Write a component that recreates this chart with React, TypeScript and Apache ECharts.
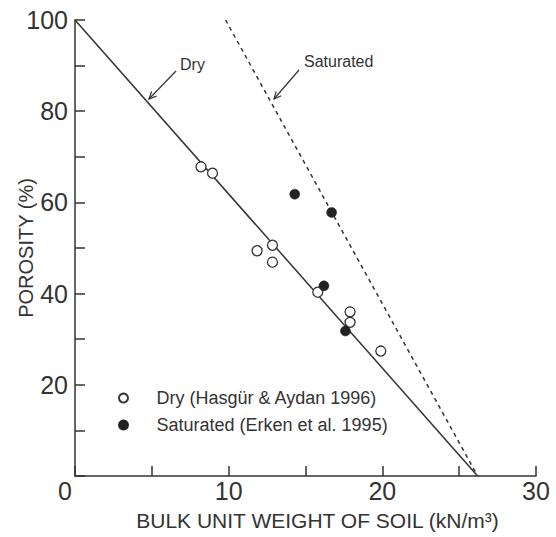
import React, { useEffect, useRef } from "react";
import * as echarts from "echarts";

// Data
const dryX = [8.2, 8.95, 12.85, 11.85, 12.85, 15.8, 17.9, 17.9, 19.9];
const dryY = [67.8, 66.4, 50.6, 49.4, 46.9, 40.3, 36.0, 33.7, 27.4];
const satX = [14.3, 16.7, 16.2, 17.6];
const satY = [61.8, 57.8, 41.7, 31.8];
const dryLineX = [0, 26.2];
const dryLineY = [100, 0];
const satLineX = [9.8, 26.2];
const satLineY = [100, 0];
const xTicks = [0, 10, 20, 30];
const yTicks = [0, 20, 40, 60, 80, 100];

const INK = "#333333";
const FONT = "Liberation Sans, Arial, Helvetica, sans-serif";

function zip(xs: number[], ys: number[]) {
  return xs.map((x, i) => [x, ys[i]]);
}

function arrow(x1: number, y1: number, x2: number, y2: number) {
  const dx = x1 - x2;
  const dy = y1 - y2;
  const len = Math.hypot(dx, dy);
  const ux = dx / len;
  const uy = dy / len;
  const a = (25 * Math.PI) / 180;
  const L = 8;
  const w1 = [x2 + L * (ux * Math.cos(a) - uy * Math.sin(a)), y2 + L * (ux * Math.sin(a) + uy * Math.cos(a))];
  const w2 = [x2 + L * (ux * Math.cos(a) + uy * Math.sin(a)), y2 + L * (-ux * Math.sin(a) + uy * Math.cos(a))];
  return [
    { type: "line", shape: { x1, y1, x2, y2 }, style: { stroke: INK, lineWidth: 1.2 } },
    { type: "polyline", shape: { points: [w1, [x2, y2], w2] }, style: { stroke: INK, lineWidth: 1.2, fill: null } },
  ];
}

export default function App() {
  const ref = useRef<HTMLDivElement>(null);
  useEffect(() => {
    if (!ref.current) return;
    const chart = echarts.init(ref.current, null, { renderer: "svg" });
    const axisCommon = {
      axisLine: { show: true, lineStyle: { color: INK, width: 1.5 } },
      axisTick: { show: true, inside: true, length: 10, lineStyle: { color: INK, width: 1.5 } },
      minorTick: { show: true, splitNumber: 2, length: 10, lineStyle: { color: INK, width: 1.5 } },
      splitLine: { show: false },
    };
    chart.setOption({
      animation: false,
      backgroundColor: "#ffffff",
      textStyle: { fontFamily: FONT, color: INK },
      grid: { left: 75, right: 20, top: 20, bottom: 61, containLabel: false, outerBoundsMode: "none" },
      xAxis: {
        type: "value",
        min: xTicks[0],
        max: xTicks[xTicks.length - 1],
        interval: 10,
        ...axisCommon,
        axisLabel: {
          margin: 2,
          fontSize: 25,
          color: INK,
          fontFamily: FONT,
          formatter: (v: number) => (v === 0 ? "{z|0}" : String(v)),
          rich: { z: { fontSize: 25, color: INK, fontFamily: FONT, padding: [0, 20, 0, 0] } },
        },
        name: "BULK UNIT WEIGHT OF SOIL (kN/m³)",
        nameLocation: "middle",
        nameGap: 34,
        nameMoveOverlap: false,
        nameTextStyle: { fontSize: 21, color: INK, fontFamily: FONT, padding: [0, 0, 0, 24] },
      },
      yAxis: {
        type: "value",
        min: yTicks[0],
        max: yTicks[yTicks.length - 1],
        interval: 20,
        ...axisCommon,
        axisLabel: {
          margin: 7,
          fontSize: 25,
          color: INK,
          fontFamily: FONT,
          formatter: (v: number) => (v === 0 ? "" : String(v)),
        },
        name: "POROSITY (%)",
        nameLocation: "middle",
        nameGap: 39,
        nameMoveOverlap: false,
        nameTextStyle: { fontSize: 20, color: INK, fontFamily: FONT },
      },
      legend: {
        orient: "vertical",
        left: 113,
        top: 383,
        itemWidth: 56,
        itemHeight: 9,
        itemGap: 7,
        textStyle: { fontSize: 18, color: INK, fontFamily: FONT, lineHeight: 20 },
        data: ["Dry (Hasgür & Aydan 1996)", "Saturated (Erken et al. 1995)"],
      },
      series: [
        {
          type: "line",
          data: zip(dryLineX, dryLineY),
          symbol: "none",
          lineStyle: { color: INK, width: 1.5 },
          silent: true,
        },
        {
          type: "line",
          data: zip(satLineX, satLineY),
          symbol: "none",
          lineStyle: { color: INK, width: 1.5, type: [4, 4] },
          silent: true,
        },
        {
          name: "Dry (Hasgür & Aydan 1996)",
          type: "scatter",
          data: zip(dryX, dryY),
          symbol: "circle",
          symbolSize: 10,
          itemStyle: { color: "#ffffff", borderColor: INK, borderWidth: 1.3, opacity: 1 },
          z: 5,
        },
        {
          name: "Saturated (Erken et al. 1995)",
          type: "scatter",
          data: zip(satX, satY),
          symbol: "circle",
          symbolSize: 10,
          itemStyle: { color: "#222222", borderColor: "#222222", borderWidth: 0.5, opacity: 1 },
          z: 5,
        },
      ],
      graphic: [
        { type: "text", left: 180, top: 56, style: { text: "Dry", fontSize: 16, fill: INK, fontFamily: FONT } },
        ...arrow(176, 71, 149, 99),
        { type: "text", left: 304, top: 53, style: { text: "Saturated", fontSize: 16, fill: INK, fontFamily: FONT } },
        ...arrow(299, 70, 274, 99),
      ],
    });
    return () => chart.dispose();
  }, []);
  return <div ref={ref} style={{ position: "fixed", left: 0, top: 0, width: 556, height: 537 }} />;
}
